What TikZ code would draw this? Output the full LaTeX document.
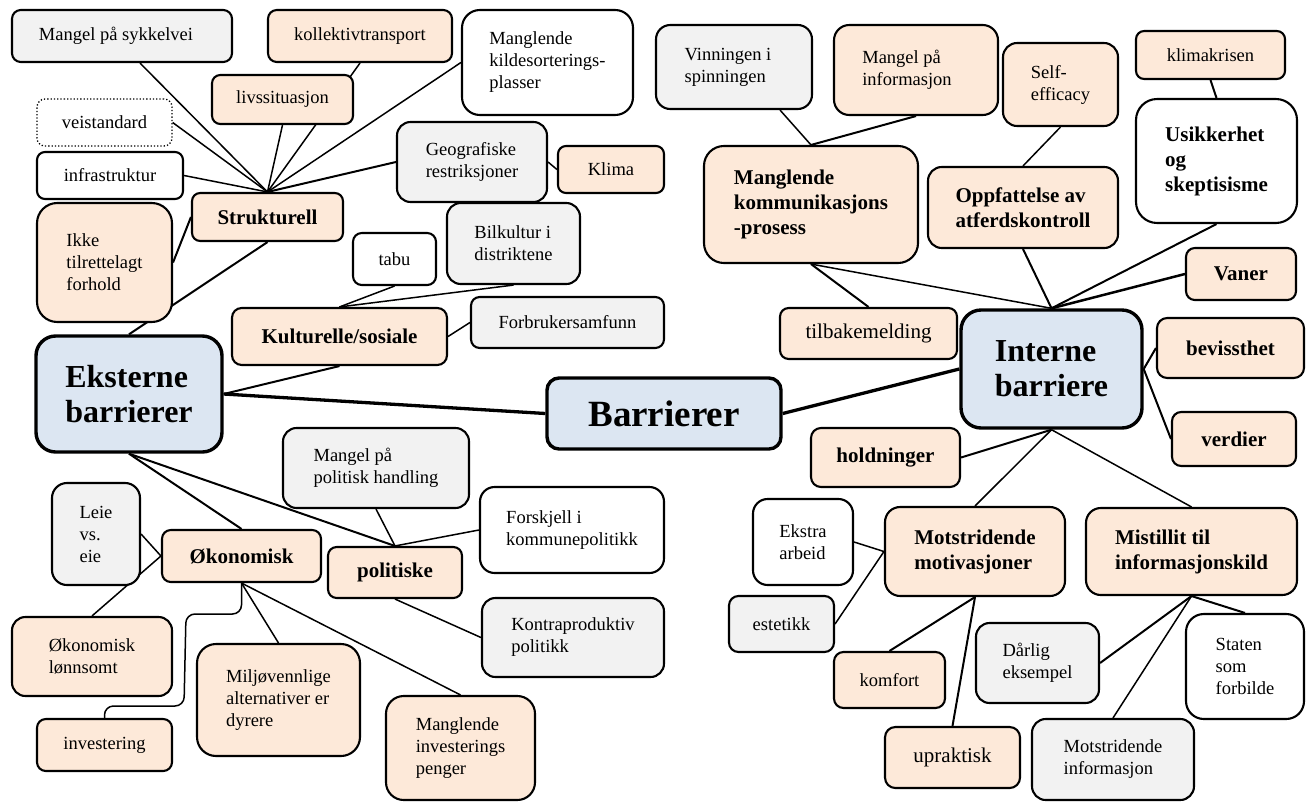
\documentclass[tikz,border=0pt]{standalone}
\usepackage{fontspec}
\setmainfont{Liberation Serif}
\usetikzlibrary{backgrounds}
\definecolor{peach}{HTML}{FDE9D9}
\definecolor{grayf}{HTML}{F2F2F2}
\definecolor{bluef}{HTML}{DCE6F2}
\newcommand\mbreg{\fontsize{18.5}{22}\selectfont}
\newcommand\mbregl{\fontsize{21}{25}\selectfont}
\newcommand\mbbold{\fontsize{21}{25}\selectfont\bfseries}
\newcommand\mbbig{\fontsize{32}{35}\selectfont\bfseries}
\newcommand\mbhuge{\fontsize{37}{40}\selectfont\bfseries}
\newcommand\bx[7]{%
  \pgfmathsetmacro\mbw{#5-#3}%
  \pgfmathsetmacro\mbh{#6-#4}%
  \pgfmathsetmacro\mbr{0.17*min(\mbw,\mbh)}%
  \node[#2, minimum width=\mbw pt, minimum height=\mbh pt, rounded corners=\mbr pt] (#1) at ({(#3+#5)/2},{(#4+#6)/2}) {#7};}
\tikzset{
  bx/.style={draw, line width=2.1pt, font=\mbreg, align=left, inner sep=2pt},
  pe/.style={bx, fill=peach},
  gr/.style={bx, fill=grayf},
  wh/.style={bx, fill=white},
  bo/.style={font=\mbbold},
  rl/.style={font=\mbregl},
  dottedbox/.style={bx, fill=white, line width=1.3pt, dotted},
  mainbox/.style={draw, line width=3.4pt, fill=bluef, font=\mbbig, align=left, inner sep=2pt},
  lnthin/.style={line width=1.5pt},
  lnmed/.style={line width=2pt},
  lnthick/.style={line width=3.3pt}
}
\begin{document}
\begin{tikzpicture}[x=1pt, y=-1pt]
\useasboundingbox (0,0) rectangle (1311,803);
% left part
\bx{sykkel}{gr}{12}{10}{232}{62}{Mangel på sykkelvei\hspace*{12pt}}
\bx{kollek}{pe}{268}{10}{452}{62}{kollektivtransport}
\bx{livs}{pe}{212}{75}{353}{124}{livssituasjon}
\bx{veist}{dottedbox}{37}{99}{172}{146}{veistandard}
\bx{infra}{wh}{37}{152}{183}{199}{infrastruktur}
\bx{ikke}{pe}{37}{203}{172}{322}{Ikke\\tilrettelagt\\forhold}
\bx{strukt}{pe,bo}{192}{193}{343}{241}{Strukturell}
\bx{kilde}{wh}{462}{10}{633}{115}{Manglende\\kildesorterings-\\plasser}
\bx{geo}{gr}{397}{122}{547}{202}{Geografiske\\restriksjoner}
\bx{klima}{pe}{558}{146}{664}{193}{Klima}
\bx{tabu}{wh}{353}{233}{436}{285}{tabu}
\bx{bil}{gr}{447}{203}{580}{284}{Bilkultur i\\distriktene}
\bx{kult}{pe,bo}{232}{308}{447}{365}{Kulturelle/sosiale}
\bx{forbr}{gr}{471}{297}{664}{348}{Forbrukersamfunn}
\bx{eks}{mainbox}{36}{336}{222}{452}{Eksterne\\barrierer}
\bx{bar}{mainbox,font=\mbhuge}{547}{378}{781}{449}{Barrierer}
\bx{mpol}{gr}{283}{428}{469}{508}{Mangel på\\politisk handling}
\bx{forsk}{wh}{480}{487}{664}{573}{Forskjell i\\kommunepolitikk}
\bx{pol}{pe,bo}{328}{547}{462}{598}{politiske}
\bx{oek}{pe,bo}{162}{530}{321}{582}{Økonomisk}
\bx{leie}{gr}{52}{483}{140}{585}{Leie\\vs.\\eie}
\bx{lonn}{pe}{12}{617}{172}{696}{Økonomisk\\lønnsomt}
\bx{inv}{pe}{37}{719}{172}{771}{investering}
\bx{milj}{pe}{197}{644}{360}{756}{Miljøvennlige\\alternativer er\\dyrere}
\bx{minv}{pe}{386}{696}{535}{800}{Manglende\\investerings\\penger}
\bx{kontra}{gr}{482}{598}{664}{677}{Kontraproduktiv\\politikk}
% right part
\bx{vinn}{gr}{656}{25}{812}{109}{Vinningen i\hspace*{12pt}\\spinningen}
\bx{minf}{pe}{834}{25}{998}{115}{Mangel på\\informasjon\hspace*{18pt}}
\bx{mkp}{pe,bo}{704}{146}{918}{263}{Manglende\\kommunikasjons\\-prosess}
\bx{self}{pe}{1003}{43}{1118}{126}{Self-\\efficacy}
\bx{klimak}{pe}{1136}{31}{1285}{79}{klimakrisen}
\bx{usik}{wh,bo}{1136}{99}{1297}{223}{Usikkerhet\\og\\skeptisisme}
\bx{oppf}{pe,bo}{928}{167}{1118}{248}{Oppfattelse av\\atferdskontroll}
\bx{vaner}{pe,bo}{1186}{248}{1296}{300}{Vaner}
\bx{tilb}{pe,rl}{780}{308}{957}{359}{tilbakemelding}
\bx{int}{mainbox}{961}{310}{1142}{428}{Interne\\barriere}
\bx{bev}{pe,bo}{1157}{318}{1304}{378}{bevissthet}
\bx{verd}{pe,bo}{1172}{412}{1296}{466}{verdier}
\bx{hold}{pe,bo}{811}{428}{960}{487}{holdninger}
\bx{ekstra}{wh}{753}{499}{853}{585}{Ekstra\\arbeid}
\bx{est}{gr}{729}{596}{834}{652}{estetikk}
\bx{komf}{pe}{834}{652}{945}{708}{komfort}
\bx{upr}{pe,rl}{885}{727}{1020}{788}{upraktisk}
\bx{mm}{pe,bo}{885}{507}{1065}{596}{Motstridende\\motivasjoner}
\bx{mist}{pe,bo}{1086}{508}{1297}{595}{Mistillit til\\informasjonskild}
\bx{darl}{gr}{976}{623}{1099}{703}{Dårlig\\eksempel}
\bx{staten}{wh}{1186}{614}{1304}{719}{Staten\\som\\forbilde}
\bx{minfo}{gr}{1032}{719}{1194}{800}{Motstridende\\informasjon}
\begin{scope}[on background layer]
  \draw[lnthick] (eks.east) -- (bar.west);
  \draw[lnthick] (bar.east) -- (int.west);
  \draw[lnmed] (eks.north) -- (strukt.south);
  \draw[lnmed] (eks.east) -- (kult.south);
  \draw[lnmed] (eks.south) -- (oek.north);
  \draw[lnmed] (eks.south) -- (pol.north);
  \draw[lnthin] (strukt.north) -- ([xshift=18pt]sykkel.south);
  \draw[lnthin] (strukt.north) -- (veist.east);
  \draw[lnthin] (strukt.north) -- (infra.east);
  \draw[lnthin] (strukt.north) -- (livs.south);
  \draw[lnthin] (strukt.north) -- (kollek.south);
  \draw[lnthin] (strukt.north) -- (kilde.west);
  \draw[lnmed] (strukt.north) -- (geo.west);
  \draw[lnmed] (ikke.east) -- (strukt.west);
  \draw[lnthin] (geo.east) -- (klima.west);
  \draw[lnthin] (kult.north) -- (tabu.south);
  \draw[lnthin] (kult.north) -- (bil.south);
  \draw[lnthin] (kult.east) -- (forbr.west);
  \draw[lnthin] (pol.north) -- (mpol.south);
  \draw[lnthin] (pol.north) -- (forsk.west);
  \draw[lnthin] (pol.south) -- (kontra.west);
  \draw[lnthin] (oek.west) -- (leie.east);
  \draw[lnthin] (oek.west) -- (lonn.north);
  \draw[lnthin] (oek.south) -- (milj.north);
  \draw[lnthin] (oek.south) -- (minv.north);
  \draw[lnthin, rounded corners=9pt] (oek.south) -- (241.5,614) -- (186,614) -- (184,706) -- (104.5,706) -- (inv.north);
  \draw[lnthin] (mkp.north) -- ([xshift=46pt]vinn.south);
  \draw[lnmed] (mkp.north) -- (minf.south);
  \draw[lnmed] (mkp.south) -- (tilb.north);
  \draw[lnthin] (mkp.south) -- (int.north);
  \draw[lnthin] (self.south) -- (oppf.north);
  \draw[lnmed] (klimak.south) -- (usik.north);
  \draw[lnmed] (oppf.south) -- (int.north);
  \draw[lnmed] (usik.south) -- (int.north);
  \draw[line width=2.5pt] (vaner.west) -- (int.north);
  \draw[lnmed] (int.east) -- (bev.west);
  \draw[lnmed] (int.east) -- (verd.west);
  \draw[lnmed] (int.south) -- (hold.east);
  \draw[lnthin] (int.south) -- (mm.north);
  \draw[lnthin] (int.south) -- (mist.north);
  \draw[lnthin] (mm.west) -- (ekstra.east);
  \draw[lnthin] (mm.west) -- (est.east);
  \draw[lnmed] (mm.south) -- (komf.north);
  \draw[lnmed] (mm.south) -- (upr.north);
  \draw[lnmed] (mist.south) -- (staten.north);
  \draw[lnmed] (mist.south) -- (darl.east);
  \draw[lnthin] (mist.south) -- (minfo.north);
\end{scope}
\end{tikzpicture}
\end{document}
